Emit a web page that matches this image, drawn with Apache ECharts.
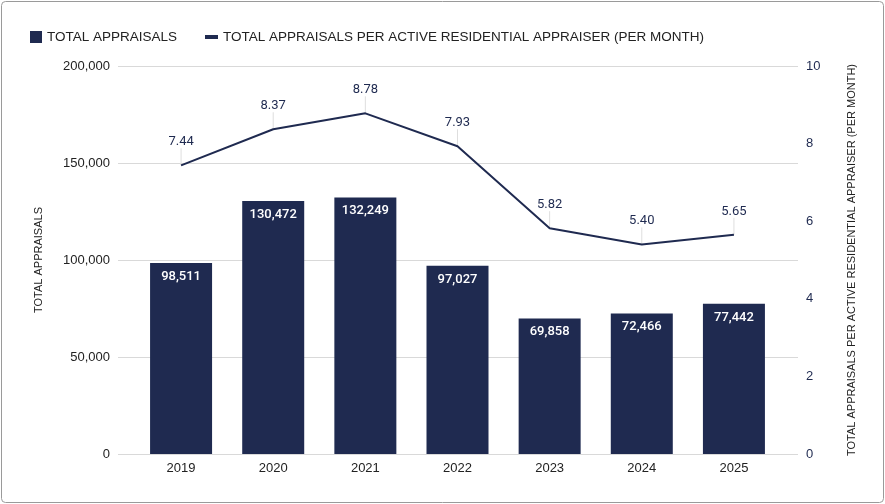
<!DOCTYPE html>
<html>
<head>
<meta charset="utf-8">
<script src="https://cdn.jsdelivr.net/npm/echarts@6/dist/echarts.min.js"></script>
<style>
  html, body { margin: 0; padding: 0; background: #fff; }
  #chart { width: 885px; height: 504px; }
</style>
</head>
<body>
<div id="chart"></div>
<script>
const years = ['2019', '2020', '2021', '2022', '2023', '2024', '2025']
const totalAppraisals = [98511, 130472, 132249, 97027, 69858, 72466, 77442]
const perAppraiser = [7.44, 8.37, 8.78, 7.93, 5.82, 5.40, 5.65]

const barName = 'TOTAL APPRAISALS'
const lineName = 'TOTAL APPRAISALS PER ACTIVE RESIDENTIAL APPRAISER (PER MONTH)'
const navy = '#1f2a50'
const sans = 'Liberation Sans, Arial, sans-serif'

const chart = echarts.init(document.getElementById('chart'))

// leader ticks under the line labels
const leaderData = perAppraiser.map((v, i) => [i, v])

const option = {
  animation: false,
  textStyle: { fontFamily: sans },
  graphic: [{
    type: 'rect',
    shape: { x: 1.5, y: 1.5, width: 882, height: 501, r: 4 },
    style: { fill: 'none', stroke: '#9a9a9a', lineWidth: 1 },
    silent: true
  }],
  legend: [{
    data: [barName],
    left: 25, top: 25,
    icon: 'rect', itemWidth: 12, itemHeight: 12, itemGap: 10,
    textStyle: { fontFamily: sans, fontSize: 13.5, color: '#222' }
  }, {
    data: [lineName],
    left: 200, top: 25,
    icon: 'rect', itemWidth: 13, itemHeight: 4,
    itemStyle: { color: navy },
    textStyle: { fontFamily: sans, fontSize: 13.5, color: '#222' }
  }],
  grid: [
    { left: 118, right: 87, top: 66, bottom: 50 },
    { left: 135, right: 105, top: 66, bottom: 50 }
  ],
  xAxis: [
    { type: 'category', gridIndex: 0, show: false, data: years },
    {
      type: 'category', gridIndex: 1, data: years,
      axisLine: { show: false }, axisTick: { show: false },
      axisLabel: { color: '#222', fontSize: 13, margin: 8, fontFamily: sans }
    }
  ],
  yAxis: [
    {
      type: 'value', gridIndex: 0, min: 0, max: 200000, interval: 50000,
      name: barName, nameLocation: 'middle', nameGap: 74,
      nameTextStyle: { fontSize: 11, color: '#222', fontFamily: sans },
      axisLine: { show: false }, axisTick: { show: false },
      axisLabel: {
        color: '#222', fontSize: 13, margin: 8, fontFamily: sans,
        formatter: v => v.toLocaleString('en-US')
      },
      splitLine: { lineStyle: { color: '#d9d9d9', width: 1 } }
    },
    {
      type: 'value', gridIndex: 1, min: 0, max: 200000, interval: 50000,
      show: false, splitLine: { show: false }
    },
    {
      type: 'value', gridIndex: 1, position: 'right', min: 0, max: 10, interval: 2,
      name: lineName, nameLocation: 'middle', nameGap: 66, nameRotate: 90,
      nameTextStyle: { fontSize: 11, color: '#222', fontFamily: sans },
      axisLine: { show: false }, axisTick: { show: false },
      axisLabel: { color: navy, fontSize: 13, margin: 26, fontFamily: sans },
      splitLine: { show: false }
    }
  ],
  series: [
    {
      name: barName,
      type: 'bar',
      xAxisIndex: 1, yAxisIndex: 1,
      data: totalAppraisals,
      barWidth: 62,
      itemStyle: { color: navy },
      label: {
        show: true, position: 'insideTop', distance: 7,
        color: '#fff', fontSize: 13, fontFamily: 'Roboto, sans-serif', fontWeight: 500,
        formatter: p => p.value.toLocaleString('en-US')
      }
    },
    {
      type: 'custom',
      xAxisIndex: 1, yAxisIndex: 2,
      data: leaderData,
      z: 1,
      silent: true,
      renderItem: (params, api) => {
        const p = api.coord([api.value(0), api.value(1)])
        return {
          type: 'line',
          shape: { x1: p[0], y1: p[1], x2: p[0], y2: p[1] - 17 },
          style: { stroke: '#dedede', lineWidth: 1 }
        }
      }
    },
    {
      name: lineName,
      type: 'line',
      xAxisIndex: 1, yAxisIndex: 2,
      data: perAppraiser,
      z: 3,
      symbol: 'circle',
      symbolSize: 0,
      showSymbol: true,
      lineStyle: { color: navy, width: 2 },
      itemStyle: { color: navy },
      label: {
        show: true, position: 'top', distance: 17,
        color: navy, fontSize: 13, fontFamily: 'Roboto, sans-serif',
        formatter: p => p.value.toFixed(2)
      }
    }
  ]
}

chart.setOption(option)
</script>
</body>
</html>
